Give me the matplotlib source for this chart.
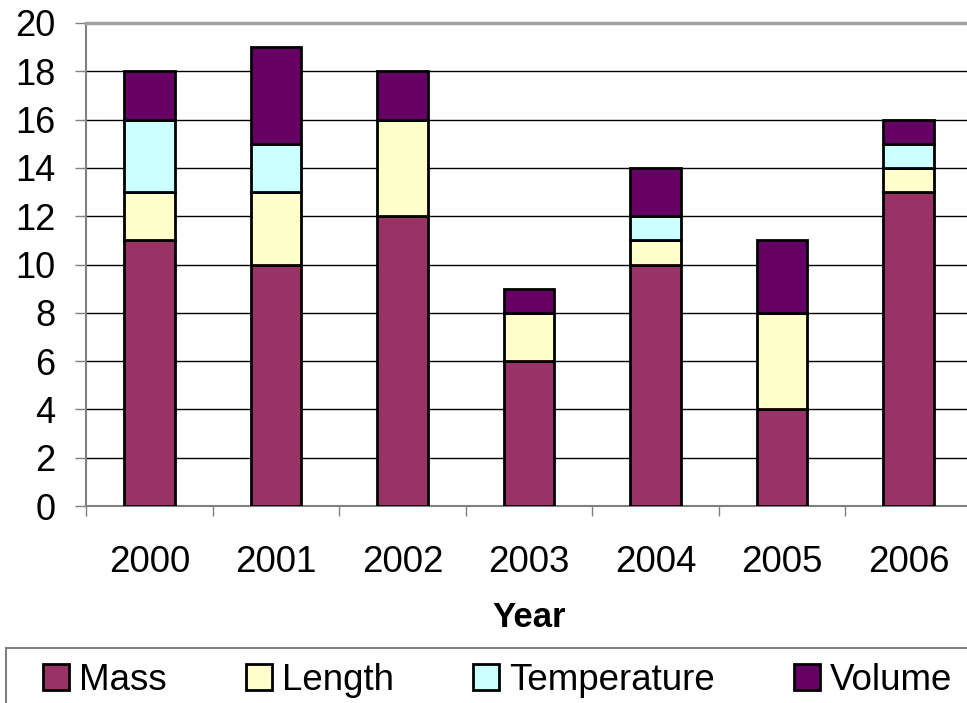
import numpy as np
import matplotlib.pyplot as plt
from matplotlib.patches import Patch, Rectangle

plt.rcParams['font.family'] = ['Liberation Sans', 'DejaVu Sans']

years = ['2000', '2001', '2002', '2003', '2004', '2005', '2006']
mass = [11, 10, 12, 6, 10, 4, 13]
length = [2, 3, 4, 2, 1, 4, 1]
temperature = [3, 2, 0, 0, 1, 0, 1]
volume = [2, 4, 2, 1, 2, 3, 1]

series = [('Mass', mass, '#993366'),
          ('Length', length, '#FFFFCC'),
          ('Temperature', temperature, '#CCFFFF'),
          ('Volume', volume, '#660066')]

W, H = 967, 703
fig = plt.figure(figsize=(W / 100, H / 100), dpi=100)
# plot area runs off the right edge, like the original screenshot
ax = fig.add_axes([86 / W, 1 - 506 / H, 886 / W, 483 / H])

x = np.arange(len(years))
bottom = np.zeros(len(years))
for name, vals, col in series:
    vals = np.array(vals, dtype=float)
    ax.bar(x, vals, width=0.4, bottom=bottom, color=col,
           edgecolor='black', linewidth=2, label=name, zorder=3)
    bottom += vals

ax.set_xlim(-0.5, len(years) - 0.5)
ax.set_ylim(0, 20)
ax.set_yticks(range(0, 21, 2))
ax.yaxis.grid(True, color='black', linewidth=1)
ax.set_axisbelow(True)

ax.set_xticks(x)
ax.set_xticklabels(years, fontsize=26.5)
ax.set_xticks(np.arange(-0.5, len(years)), minor=True)
ax.tick_params(axis='x', which='major', length=0, pad=28)
ax.tick_params(axis='x', which='minor', length=7, width=1, color='#808080', direction='out')
ax.tick_params(axis='y', labelsize=26, length=8, width=1, color='#808080', pad=14)

for s in ['left', 'bottom']:
    ax.spines[s].set_color('#808080')
    ax.spines[s].set_linewidth(1.5)
ax.spines['top'].set_color('#a0a0a0')
ax.spines['top'].set_linewidth(2.5)
ax.spines['right'].set_visible(False)

ax.set_xlabel('Year', fontsize=25, fontweight='bold', labelpad=15)

# legend box, also cut off by the right and bottom edges
fig.patches.append(Rectangle((6 / W, -0.1), 1.0, 0.1 + 1 - 648 / H,
                             transform=fig.transFigure, facecolor='white',
                             edgecolor='#808080', linewidth=1.5))
handles = [Patch(facecolor=c, edgecolor='black', linewidth=2) for _, _, c in series]
leg = fig.legend(handles, [n for n, _, _ in series], ncol=4, loc='upper left',
                 bbox_to_anchor=(43 / W, 1 - 663 / H, (952 - 43) / W, 0), mode='expand',
                 fontsize=26.5, frameon=False, borderaxespad=0,
                 handlelength=0.7, handleheight=0.7, handletextpad=0.27,
                 borderpad=0)

fig.savefig('out.png', dpi=100)
